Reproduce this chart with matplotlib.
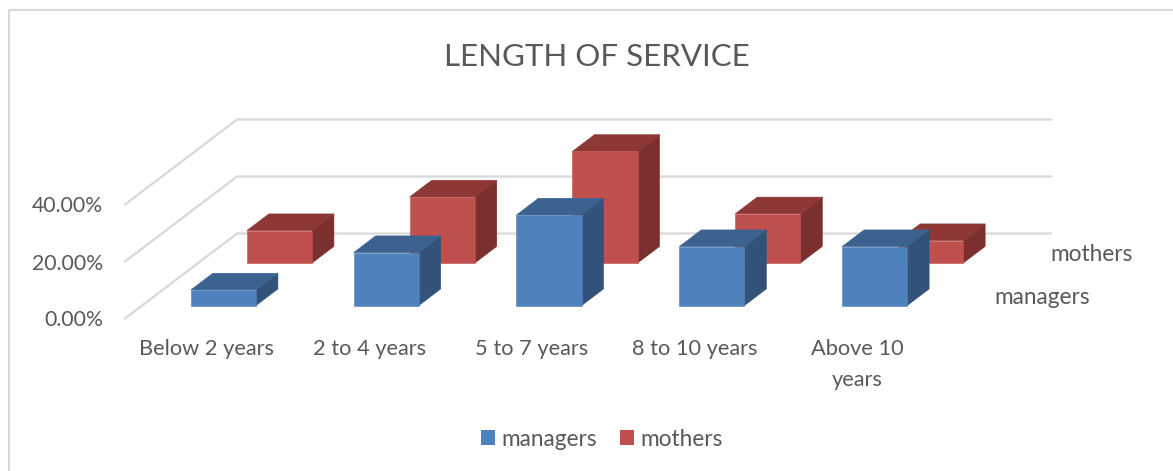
import matplotlib
matplotlib.use("Agg")
import matplotlib.pyplot as plt
from matplotlib.lines import Line2D
from matplotlib.patches import Patch, Polygon

plt.rcParams['font.family'] = ['Lato', 'DejaVu Sans']

categories = ["Below 2 years", "2 to 4 years", "5 to 7 years", "8 to 10 years", "Above 10\nyears"]
managers = [5.5, 18.6, 31.8, 20.7, 20.7]
mothers = [11.4, 23.2, 39.2, 17.3, 7.9]
y_ticks = [0, 20, 40]
y_labels = ["0.00%", "20.00%", "40.00%"]
series_names = ["managers", "mothers"]

text_col = "#595959"
grid_col = "#D9D9D9"
# front, top, side
managers_cols = ("#4F81BD", "#3C6290", "#325279")
mothers_cols = ("#C0504D", "#8E3836", "#7B2F2E")

W, H = 1173, 471
# oblique depth of the floor, in data units
depth_x = 112 / 162.8
depth_y = 85 / 2.85
bar_width = 0.4
bar_depth = 0.196


def project(x, v, d):
    return x + depth_x * d, v + depth_y * d


def draw_box(ax, i, value, d_mid, cols):
    x0, x1 = i + 0.5 - bar_width / 2, i + 0.5 + bar_width / 2
    d0, d1 = d_mid - bar_depth / 2, d_mid + bar_depth / 2
    front = [project(x0, 0, d0), project(x1, 0, d0), project(x1, value, d0), project(x0, value, d0)]
    top = [project(x0, value, d0), project(x1, value, d0), project(x1, value, d1), project(x0, value, d1)]
    side = [project(x1, 0, d0), project(x1, 0, d1), project(x1, value, d1), project(x1, value, d0)]
    for pts, col in zip((side, top, front), (cols[2], cols[1], cols[0])):
        ax.add_patch(Polygon(pts, closed=True, facecolor=col, edgecolor=col, lw=0.4, zorder=3))


fig = plt.figure(figsize=(W / 100, H / 100), dpi=100)
# chart frame: only the left and top edges are inside the picture
fig.add_artist(Line2D([9 / W, 9 / W, 1], [0, (H - 10) / H, (H - 10) / H], transform=fig.transFigure,
                      color=grid_col, lw=1.5))

# axes spans the floor from front-left (125, 319) to back-right (1051, 120)
ax = fig.add_axes([125 / W, (H - 318.5) / H, (1051 - 125) / W, (319 - 120) / H])
ax.set_xlim(0, 5 + depth_x)
ax.set_ylim(0, 199 / 2.85)
ax.patch.set_alpha(0)
for s in ax.spines.values():
    s.set_visible(False)

for v in y_ticks:
    xs, ys = zip(project(0, v, 0), project(0, v, 1), project(5, v, 1))
    ax.plot(xs, ys, color=grid_col, lw=1.6, zorder=1, clip_on=False)

for i, v in enumerate(mothers):
    draw_box(ax, i, v, 0.75, mothers_cols)
for i, v in enumerate(managers):
    draw_box(ax, i, v, 0.25, managers_cols)

ax.set_xticks([i + 0.5 for i in range(len(categories))])
ax.set_xticklabels(categories, fontsize=15.7, color=text_col, linespacing=1.64, va="top")
ax.set_yticks(y_ticks)
ax.set_yticklabels(y_labels, fontsize=15.3, color=text_col)
ax.tick_params(axis="x", length=0, pad=15)
ax.tick_params(axis="y", length=0, pad=16)

for name, d in zip(series_names, (0.25, 0.75)):
    ax.annotate(name, project(5, 0, d), xytext=(19.5, 0), textcoords="offset points",
                fontsize=16.3, color=text_col, va="center", ha="left", annotation_clip=False)

fig.text(597 / W, (H - 57) / H, "LENGTH OF SERVICE", fontsize=22.5, color=text_col, ha="center", va="center")

handles = [Patch(facecolor=managers_cols[0]), Patch(facecolor=mothers_cols[0])]
fig.legend(handles, series_names, loc="center", bbox_to_anchor=(602 / W, (H - 439) / H), ncol=2, frameon=False,
           fontsize=16.3, labelcolor=text_col, handlelength=0.62, handleheight=0.62, handletextpad=0.3, columnspacing=1.0)

fig.savefig("out.png", dpi=100)
